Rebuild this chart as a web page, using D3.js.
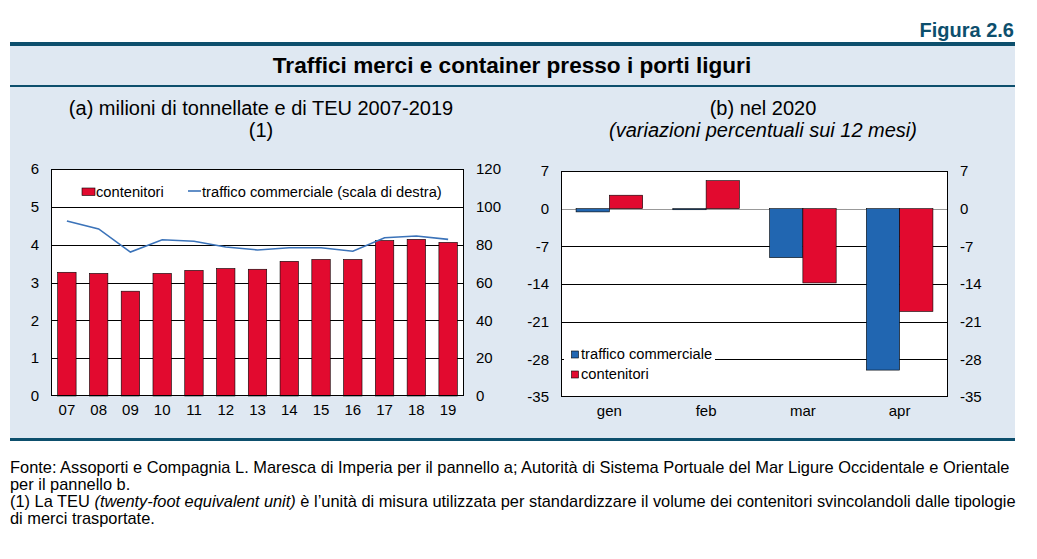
<!DOCTYPE html>
<meta charset="utf-8">
<title>Traffici merci e container</title>
<style>
body {
  margin: 0;
  background: #fff;
}
svg text {
  font-family: "Liberation Sans", Arial, sans-serif;
}
</style>
<body>
<script src="https://cdnjs.cloudflare.com/ajax/libs/d3/7.8.5/d3.min.js"></script>
<script>
// panel (a): years, containers (left scale) and commercial traffic (right scale)
var years = ["07", "08", "09", "10", "11", "12", "13", "14", "15", "16", "17", "18", "19"];
var contenitori = [3.27, 3.24, 2.77, 3.24, 3.32, 3.37, 3.35, 3.56, 3.61, 3.61, 4.11, 4.14, 4.06];
var traffico = [92.5, 88.3, 76.1, 82.6, 81.8, 78.8, 77.2, 78.4, 78.4, 76.5, 83.7, 84.6, 82.8];
var leftTicksA = [0, 1, 2, 3, 4, 5, 6];
var rightTicksA = [0, 20, 40, 60, 80, 100, 120];

// panel (b): 2020 monthly changes
var months = ["gen", "feb", "mar", "apr"];
var trafficoB = [-0.6, -0.2, -9.1, -30.0];
var contenitoriB = [2.5, 5.2, -13.8, -19.1];
var ticksB = [7, 0, -7, -14, -21, -28, -35];

var red = "#e20a2f",
    blue = "#2166b1",
    lineBlue = "#3b73b9",
    teal = "#0d4f6d",
    bg = "#dfe8f2";

var fmt = function(d) { return String(d); };

var svg = d3.select("body").append("svg")
    .attr("width", 1037)
    .attr("height", 559);

// frame
svg.append("rect").attr("x", 10).attr("y", 45).attr("width", 1005).attr("height", 394).attr("fill", bg);
svg.append("rect").attr("x", 10).attr("y", 42).attr("width", 1005).attr("height", 4).attr("fill", teal);
svg.append("rect").attr("x", 10).attr("y", 85).attr("width", 1005).attr("height", 2).attr("fill", teal);
svg.append("rect").attr("x", 10).attr("y", 438).attr("width", 1005).attr("height", 3).attr("fill", teal);

svg.append("text")
    .attr("x", 1014).attr("y", 37)
    .attr("text-anchor", "end")
    .attr("fill", teal)
    .style("font-size", "20px").style("font-weight", "bold")
    .text("Figura 2.6");

svg.append("text")
    .attr("x", 512).attr("y", 73)
    .attr("text-anchor", "middle")
    .style("font-size", "22.6px").style("font-weight", "bold")
    .text("Traffici merci e container presso i porti liguri");

// subtitles
svg.append("text").attr("x", 261).attr("y", 115).attr("text-anchor", "middle")
    .style("font-size", "20px").text("(a) milioni di tonnellate e di TEU 2007-2019");
svg.append("text").attr("x", 261).attr("y", 137).attr("text-anchor", "middle")
    .style("font-size", "20px").text("(1)");
svg.append("text").attr("x", 763).attr("y", 115).attr("text-anchor", "middle")
    .style("font-size", "20px").text("(b) nel 2020");
svg.append("text").attr("x", 763).attr("y", 137).attr("text-anchor", "middle")
    .style("font-size", "20px").style("font-style", "italic")
    .text("(variazioni percentuali sui 12 mesi)");

// ---------- panel (a)
var ax0 = 51, ax1 = 464, ay0 = 169, ay1 = 396;

var xA = d3.scaleBand().domain(years).range([ax0, ax1]).paddingInner(0.42).paddingOuter(0.21);
var yL = d3.scaleLinear().domain([0, 6]).range([ay1, ay0]);
var yR = d3.scaleLinear().domain([0, 120]).range([ay1, ay0]);

var gA = svg.append("g");
gA.append("rect").attr("x", ax0).attr("y", ay0).attr("width", ax1 - ax0).attr("height", ay1 - ay0).attr("fill", "#fff");

gA.selectAll(".grid")
    .data(leftTicksA.slice(1, -1))
  .enter().append("line")
    .attr("x1", ax0).attr("x2", ax1)
    .attr("y1", function(d) { return Math.round(yL(d)) + 0.5; })
    .attr("y2", function(d) { return Math.round(yL(d)) + 0.5; })
    .attr("stroke", "#000").attr("stroke-width", 1);

gA.selectAll(".bar")
    .data(contenitori)
  .enter().append("rect")
    .attr("x", function(d, i) { return xA(years[i]); })
    .attr("width", xA.bandwidth())
    .attr("y", function(d) { return yL(d); })
    .attr("height", function(d) { return yL(0) - yL(d); })
    .attr("fill", red)
    .attr("stroke", "#000").attr("stroke-width", 0.6);

var line = d3.line()
    .x(function(d, i) { return xA(years[i]) + xA.bandwidth() / 2; })
    .y(function(d) { return yR(d); });

gA.append("path")
    .datum(traffico)
    .attr("d", line)
    .attr("fill", "none")
    .attr("stroke", lineBlue)
    .attr("stroke-width", 1.6);

gA.append("rect").attr("x", ax0 + 0.5).attr("y", ay0 + 0.5).attr("width", ax1 - ax0 - 1).attr("height", ay1 - ay0 - 1)
    .attr("fill", "none").attr("stroke", "#000");

var leftAxisA = d3.axisLeft(yL).tickValues(leftTicksA).tickFormat(fmt).tickSize(0).tickPadding(12);
var rightAxisA = d3.axisRight(yR).tickValues(rightTicksA).tickFormat(fmt).tickSize(0).tickPadding(12);
var bottomAxisA = d3.axisBottom(xA).tickSize(0).tickPadding(8);

[
  gA.append("g").attr("transform", "translate(" + ax0 + ",0)").call(leftAxisA),
  gA.append("g").attr("transform", "translate(" + ax1 + ",0)").call(rightAxisA),
  gA.append("g").attr("transform", "translate(0," + ay1 + ")").call(bottomAxisA)
].forEach(function(g) {
  g.select(".domain").remove();
  g.selectAll("text").style("font-size", "15px").attr("fill", "#000")
      .style("font-family", "'Liberation Sans', Arial, sans-serif");
});

// legend (a)
gA.append("rect").attr("x", 82).attr("y", 188).attr("width", 13).attr("height", 7.5)
    .attr("fill", red).attr("stroke", "#000").attr("stroke-width", 0.6);
gA.append("text").attr("x", 96).attr("y", 197).style("font-size", "14.7px").text("contenitori");
gA.append("line").attr("x1", 188).attr("x2", 201).attr("y1", 191).attr("y2", 191)
    .attr("stroke", lineBlue).attr("stroke-width", 1.6);
gA.append("text").attr("x", 202).attr("y", 197).style("font-size", "14.7px")
    .text("traffico commerciale (scala di destra)");

// ---------- panel (b)
var bx0 = 561, bx1 = 948, by0 = 171, by1 = 397;

var xB = d3.scaleBand().domain(months).range([bx0, bx1]);
var xSub = d3.scaleBand().domain(["t", "c"]).range([0, 66.6]);
var yB = d3.scaleLinear().domain([-35, 7]).range([by1, by0]);

var gB = svg.append("g");
gB.append("rect").attr("x", bx0).attr("y", by0).attr("width", bx1 - bx0).attr("height", by1 - by0).attr("fill", "#fff");

gB.selectAll(".grid")
    .data(ticksB.slice(1, -1))
  .enter().append("line")
    .attr("x1", bx0).attr("x2", bx1)
    .attr("y1", function(d) { return Math.round(yB(d)) + 0.5; })
    .attr("y2", function(d) { return Math.round(yB(d)) + 0.5; })
    .attr("stroke", function(d) { return d === 0 ? "#999" : "#000"; })
    .attr("stroke-width", 1);

var groups = gB.selectAll(".month")
    .data(months)
  .enter().append("g")
    .attr("transform", function(d) { return "translate(" + (xB(d) + xB.bandwidth() / 2 - 33.3) + ",0)"; });

groups.append("rect")
    .attr("x", xSub("t"))
    .attr("width", xSub.bandwidth())
    .attr("y", function(d, i) { return yB(Math.max(0, trafficoB[i])); })
    .attr("height", function(d, i) { return Math.abs(yB(trafficoB[i]) - yB(0)); })
    .attr("fill", blue).attr("stroke", "#000").attr("stroke-width", 0.6);

groups.append("rect")
    .attr("x", xSub("c"))
    .attr("width", xSub.bandwidth())
    .attr("y", function(d, i) { return yB(Math.max(0, contenitoriB[i])); })
    .attr("height", function(d, i) { return Math.abs(yB(contenitoriB[i]) - yB(0)); })
    .attr("fill", red).attr("stroke", "#000").attr("stroke-width", 0.6);

// legend (b) with white box over the grid line
gB.append("rect").attr("x", 564).attr("y", 344).attr("width", 151).attr("height", 38).attr("fill", "#fff");
gB.append("rect").attr("x", 571.5).attr("y", 351).attr("width", 7).attr("height", 7)
    .attr("fill", blue).attr("stroke", "#000").attr("stroke-width", 0.6);
gB.append("text").attr("x", 581).attr("y", 359).style("font-size", "14.7px").text("traffico commerciale");
gB.append("rect").attr("x", 571.5).attr("y", 371).attr("width", 7).attr("height", 7)
    .attr("fill", red).attr("stroke", "#000").attr("stroke-width", 0.6);
gB.append("text").attr("x", 581).attr("y", 379).style("font-size", "14.7px").text("contenitori");

gB.append("rect").attr("x", bx0 + 0.5).attr("y", by0 + 0.5).attr("width", bx1 - bx0 - 1).attr("height", by1 - by0 - 1)
    .attr("fill", "none").attr("stroke", "#000");

var leftAxisB = d3.axisLeft(yB).tickValues(ticksB).tickFormat(fmt).tickSize(0).tickPadding(12);
var rightAxisB = d3.axisRight(yB).tickValues(ticksB).tickFormat(fmt).tickSize(0).tickPadding(12);
var bottomAxisB = d3.axisBottom(xB).tickSize(0).tickPadding(8);

[
  gB.append("g").attr("transform", "translate(" + bx0 + ",0)").call(leftAxisB),
  gB.append("g").attr("transform", "translate(" + bx1 + ",0)").call(rightAxisB),
  gB.append("g").attr("transform", "translate(0," + by1 + ")").call(bottomAxisB)
].forEach(function(g) {
  g.select(".domain").remove();
  g.selectAll("text").style("font-size", "15px").attr("fill", "#000")
      .style("font-family", "'Liberation Sans', Arial, sans-serif");
});

// notes
var notes = [
  [{t: "Fonte: Assoporti e Compagnia L. Maresca di Imperia per il pannello a; Autorità di Sistema Portuale del Mar Ligure Occidentale e Orientale"}],
  [{t: "per il pannello b."}],
  [{t: "(1) La TEU "}, {t: "(twenty-foot equivalent unit)", i: true}, {t: " è l’unità di misura utilizzata per standardizzare il volume dei contenitori svincolandoli dalle tipologie"}],
  [{t: "di merci trasportate."}]
];

notes.forEach(function(parts, k) {
  var t = svg.append("text")
      .attr("x", 10).attr("y", 473 + k * 17)
      .style("font-size", "16.4px");
  parts.forEach(function(p) {
    t.append("tspan").style("font-style", p.i ? "italic" : "normal").text(p.t);
  });
});
</script>
